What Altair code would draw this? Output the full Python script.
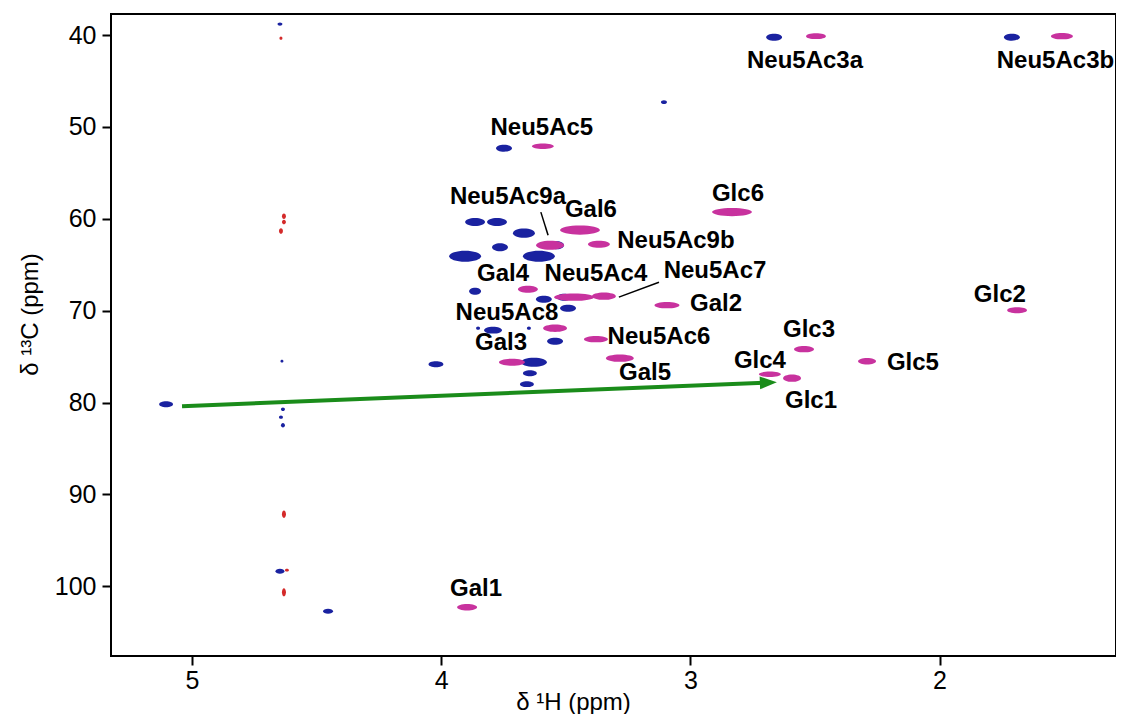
import altair as alt
import pandas as pd
import math

# ---------------- data (ppm) ----------------
# blue spectrum: 1H shift, 13C shift, 1H linewidth, 13C linewidth
blue_h = [2.664, 1.710, 3.106, 3.748, 3.864, 3.776, 3.668, 3.764, 3.904, 3.608,
          3.535, 3.864, 3.588, 3.507, 3.491, 3.792, 3.543, 4.021, 3.628, 3.644,
          3.656, 5.104, 4.454, 4.647, 4.639, 4.635, 4.643, 4.635, 4.647, 3.852, 3.648]
blue_c = [40.22, 40.22, 47.30, 52.31, 60.36, 60.36, 61.56, 63.09, 64.07, 64.07,
          62.87, 67.88, 68.75, 68.53, 69.73, 72.12, 73.32, 75.83, 75.61, 76.81,
          78.00, 80.18, 102.72, 38.80, 75.50, 80.73, 81.60, 82.47, 98.37, 71.91, 71.91]
blue_wh = [0.064, 0.064, 0.024, 0.064, 0.080, 0.080, 0.088, 0.064, 0.128, 0.128,
           0.056, 0.048, 0.064, 0.056, 0.064, 0.072, 0.064, 0.060, 0.104, 0.056,
           0.056, 0.056, 0.040, 0.020, 0.012, 0.016, 0.016, 0.016, 0.036, 0.016, 0.016]
blue_wc = [0.76, 0.76, 0.40, 0.76, 0.87, 0.87, 1.00, 0.87, 1.20, 1.20,
           0.87, 0.76, 0.76, 0.76, 0.76, 0.76, 0.76, 0.65, 0.98, 0.65,
           0.65, 0.65, 0.55, 0.35, 0.30, 0.40, 0.35, 0.50, 0.55, 0.35, 0.35]

# magenta spectrum
mag_h = [2.496, 1.509, 3.592, 2.833, 3.443, 3.563, 3.367, 3.652, 3.467, 3.347,
         3.094, 3.543, 3.379, 3.716, 3.283, 2.544, 2.681, 2.592, 2.291, 1.689, 3.896]
mag_c = [40.11, 40.11, 52.09, 59.27, 61.23, 62.87, 62.76, 67.66, 68.53, 68.42,
         69.40, 71.91, 73.10, 75.61, 75.17, 74.19, 76.92, 77.35, 75.50, 69.95, 102.29]
mag_wh = [0.080, 0.088, 0.088, 0.160, 0.160, 0.112, 0.088, 0.080, 0.160, 0.096,
          0.100, 0.096, 0.096, 0.104, 0.112, 0.080, 0.088, 0.072, 0.072, 0.080, 0.080]
mag_wc = [0.65, 0.70, 0.60, 0.90, 1.00, 0.98, 0.76, 0.76, 0.80, 0.80,
          0.70, 0.80, 0.70, 0.76, 0.80, 0.70, 0.60, 0.80, 0.70, 0.65, 0.70]

# red (water-line artefacts)
red_h = [4.643, 4.631, 4.631, 4.643, 4.631, 4.619, 4.631]
red_c = [40.33, 59.71, 60.36, 61.34, 92.16, 98.26, 100.66]
red_wh = [0.012, 0.016, 0.016, 0.016, 0.016, 0.016, 0.016]
red_wc = [0.35, 0.60, 0.50, 0.60, 0.80, 0.30, 0.90]

# assignments
label_text = ["Neu5Ac3a", "Neu5Ac3b", "Neu5Ac5", "Neu5Ac9a", "Gal6", "Glc6", "Neu5Ac9b",
              "Gal4", "Neu5Ac4", "Neu5Ac7", "Gal2", "Neu5Ac8", "Neu5Ac6", "Gal3",
              "Glc3", "Glc4", "Glc5", "Gal5", "Glc1", "Glc2", "Gal1"]
label_h = [2.540, 1.535, 3.596, 3.732, 3.399, 2.809, 3.058,
           3.752, 3.379, 2.901, 2.897, 3.736, 3.126, 3.760,
           2.524, 2.721, 2.107, 3.182, 2.516, 1.758, 3.860]
label_c = [42.83, 42.83, 50.13, 57.64, 59.06, 57.31, 62.43,
           66.03, 66.03, 65.70, 69.24, 70.27, 72.89, 73.54,
           72.12, 75.50, 75.72, 76.81, 79.86, 68.31, 100.33]

# leader lines (pairs of points)
leader_id = ["Neu5Ac9a", "Neu5Ac9a", "Neu5Ac7", "Neu5Ac7"]
leader_h = [3.600, 3.571, 3.287, 3.126]
leader_c = [59.27, 61.78, 68.53, 66.90]

# arrow start / tip
arrow_h = [5.040, 2.653]
arrow_c = [80.40, 77.79]

x_ticks = [5, 4, 3, 2]
y_ticks = [40, 50, 60, 70, 80, 90, 100]

# ---------------- layout ----------------
W, H = 1005, 642
XDOM = [5.325, 1.292]
YDOM = [37.7, 107.6]
px_x = W / (XDOM[0] - XDOM[1])
px_y = H / (YDOM[1] - YDOM[0])


def ellipse_path(a):
    k = 0.5523
    return (f"M-1,0C-1,{-k*a:.3f},{-k:.3f},{-a:.3f},0,{-a:.3f}"
            f"C{k:.3f},{-a:.3f},1,{-k*a:.3f},1,0"
            f"C1,{k*a:.3f},{k:.3f},{a:.3f},0,{a:.3f}"
            f"C{-k:.3f},{a:.3f},-1,{k*a:.3f},-1,0Z")


def peaks(h, c, wh, wc, name):
    df = pd.DataFrame({"h": h, "c": c, "wh": wh, "wc": wc})
    df["shape"] = [ellipse_path((b * px_y) / (a * px_x)) for a, b in zip(df.wh, df.wc)]
    df["size"] = (df.wh * px_x) ** 2
    df["spec"] = name
    return df


xs = alt.Scale(domain=XDOM, nice=False, zero=False)
ys = alt.Scale(domain=YDOM, nice=False, zero=False, reverse=True)

xenc = alt.X("h:Q", scale=xs,
             axis=alt.Axis(values=x_ticks, title="δ ¹H (ppm)", format="d", grid=False,
                           domain=False, tickColor="black", tickWidth=2, tickSize=9,
                           labelColor="black", titleColor="black",
                           labelFont="Liberation Sans", labelFontSize=25,
                           labelPadding=3, titleFont="Liberation Sans",
                           titleFontSize=24, titleFontWeight="normal",
                           titleX=462, titleY=46, titleBaseline="middle"))
yenc = alt.Y("c:Q", scale=ys,
             axis=alt.Axis(values=y_ticks, title="δ ¹³C (ppm)", format="d", grid=False,
                           domain=False, tickColor="black", tickWidth=2, tickSize=9,
                           labelColor="black", titleColor="black",
                           labelFont="Liberation Sans", labelFontSize=25,
                           labelPadding=6, titleFont="Liberation Sans",
                           titleFontSize=24, titleFontWeight="normal",
                           titleX=-81, titleY=300, titleBaseline="middle",
                           titleAngle=270))


def peak_layer(df, color):
    return alt.Chart(df).mark_point(filled=True, opacity=1, strokeWidth=0).encode(
        x=xenc, y=yenc,
        shape=alt.Shape("shape:N", scale=None),
        size=alt.Size("size:Q", scale=None),
        color=alt.value(color),
    )


blue = peak_layer(peaks(blue_h, blue_c, blue_wh, blue_wc, "blue"), "#1a22a0")
mag = peak_layer(peaks(mag_h, mag_c, mag_wh, mag_wc, "magenta"), "#c8329e")
red = peak_layer(peaks(red_h, red_c, red_wh, red_wc, "red"), "#d42a2a")

# arrow
frac = 8.5 / (((arrow_h[0] - arrow_h[1]) * px_x) ** 2 + ((arrow_c[0] - arrow_c[1]) * px_y) ** 2) ** 0.5
head_h = arrow_h[1] + (arrow_h[0] - arrow_h[1]) * frac
head_c = arrow_c[1] + (arrow_c[0] - arrow_c[1]) * frac
arrow_df = pd.DataFrame({"h": [arrow_h[0], head_h], "c": [arrow_c[0], head_c], "o": [0, 1]})
arrow_line = alt.Chart(arrow_df).mark_line(color="#1a8c1a", strokeWidth=4).encode(
    x=xenc, y=yenc, order="o:Q")
ang = math.degrees(math.atan2(-(arrow_c[0] - arrow_c[1]) * px_y, (arrow_h[0] - arrow_h[1]) * px_x))
head = alt.Chart(pd.DataFrame({"h": [head_h], "c": [head_c]})).mark_point(
    filled=True, opacity=1, color="#1a8c1a", size=17 ** 2, strokeWidth=0,
    shape="M-1,-0.75L1,0L-1,0.75Z", angle=(360 + ang) % 360).encode(x=xenc, y=yenc)

leaders = alt.Chart(pd.DataFrame({"h": leader_h, "c": leader_c, "g": leader_id})).mark_line(
    color="black", strokeWidth=1.5).encode(x=xenc, y=yenc, detail="g:N")

labels = alt.Chart(pd.DataFrame({"h": label_h, "c": label_c, "t": label_text})).mark_text(
    font="Liberation Sans", fontSize=24, fontWeight="bold", color="black",
    align="center", baseline="middle").encode(x=xenc, y=yenc, text="t:N")

chart = alt.layer(blue, red, mag, arrow_line, head, leaders, labels).properties(
    width=W, height=H,
    background="white",
    autosize=alt.AutoSizeParams(type="none"),
    padding={"left": 103, "top": 6, "right": 0, "bottom": 58},
).configure_view(stroke="black", strokeWidth=2)

chart.save("out.html", embed_options={"renderer": "svg", "actions": False})
